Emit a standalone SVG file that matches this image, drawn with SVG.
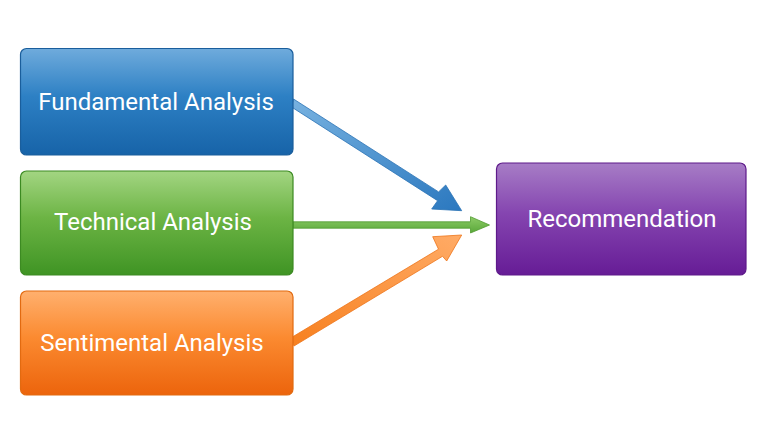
<svg xmlns="http://www.w3.org/2000/svg" width="768" height="446" viewBox="0 0 768 446">
<style>
.box{stroke-width:1.2}
.lbl{font-family:Roboto,"Liberation Sans",sans-serif;font-size:24px;fill:#ffffff;text-anchor:middle;dominant-baseline:central}
</style>
<defs>
<linearGradient id="gb" x1="0" y1="0" x2="0" y2="1"><stop offset="0" stop-color="#6fabdc"/><stop offset="0.45" stop-color="#2d80c4"/><stop offset="1" stop-color="#1763a8"/></linearGradient>
<linearGradient id="gg" x1="0" y1="0" x2="0" y2="1"><stop offset="0" stop-color="#a3d582"/><stop offset="0.45" stop-color="#6cb444"/><stop offset="1" stop-color="#3f9424"/></linearGradient>
<linearGradient id="go" x1="0" y1="0" x2="0" y2="1"><stop offset="0" stop-color="#ffb06e"/><stop offset="0.45" stop-color="#fb8a30"/><stop offset="1" stop-color="#ec640c"/></linearGradient>
<linearGradient id="gp" x1="0" y1="0" x2="0" y2="1"><stop offset="0" stop-color="#a77dc6"/><stop offset="0.45" stop-color="#8545b0"/><stop offset="1" stop-color="#661c96"/></linearGradient>
<linearGradient id="ab" x1="0" y1="0" x2="1" y2="1"><stop offset="0" stop-color="#78b2e0"/><stop offset="1" stop-color="#2b78bf"/></linearGradient>
<linearGradient id="ag" x1="0" y1="0" x2="0" y2="1"><stop offset="0" stop-color="#8ccb66"/><stop offset="1" stop-color="#5aa83a"/></linearGradient>
<linearGradient id="ao" x1="0" y1="1" x2="1" y2="0"><stop offset="0" stop-color="#f7801f"/><stop offset="1" stop-color="#ffab66"/></linearGradient>
</defs>
<g id="connectors">
<path d="M293.5,99 L438.6,191.9 L445.7,185 L461.7,210.7 L431.7,209 L437.6,200.7 L291.5,107 Z" fill="url(#ab)" stroke="#2a72b5" stroke-width="0.8" stroke-linejoin="round"/>
<path d="M293,221.8 L470.5,221.8 L470.5,216.7 L489.5,225 L470.5,233 L470.5,228.2 L293,228.2 Z" fill="url(#ag)" stroke="#4f9a2e" stroke-width="0.8" stroke-linejoin="round"/>
<path d="M291.5,337.5 L438.5,249.2 L432.7,236.7 L461.7,235 L446.7,261 L442.5,256.3 L294,346 Z" fill="url(#ao)" stroke="#ee7318" stroke-width="0.8" stroke-linejoin="round"/>
</g>
<g id="fundamental">
<rect class="box" x="20.5" y="48.5" width="272.5" height="106.5" rx="6" fill="url(#gb)" stroke="#1a5e9c"/>
<text class="lbl" x="156" y="102">Fundamental Analysis</text>
</g>
<g id="technical">
<rect class="box" x="20.5" y="171" width="272.5" height="104" rx="6" fill="url(#gg)" stroke="#3c8a22"/>
<text class="lbl" x="153" y="222">Technical Analysis</text>
</g>
<g id="sentimental">
<rect class="box" x="20.5" y="291" width="272.5" height="104" rx="6" fill="url(#go)" stroke="#e26a10"/>
<text class="lbl" x="152" y="343">Sentimental Analysis</text>
</g>
<g id="recommendation">
<rect class="box" x="496.5" y="163" width="249.5" height="112" rx="6" fill="url(#gp)" stroke="#5e1a8a"/>
<text class="lbl" x="622" y="219">Recommendation</text>
</g>
</svg>
